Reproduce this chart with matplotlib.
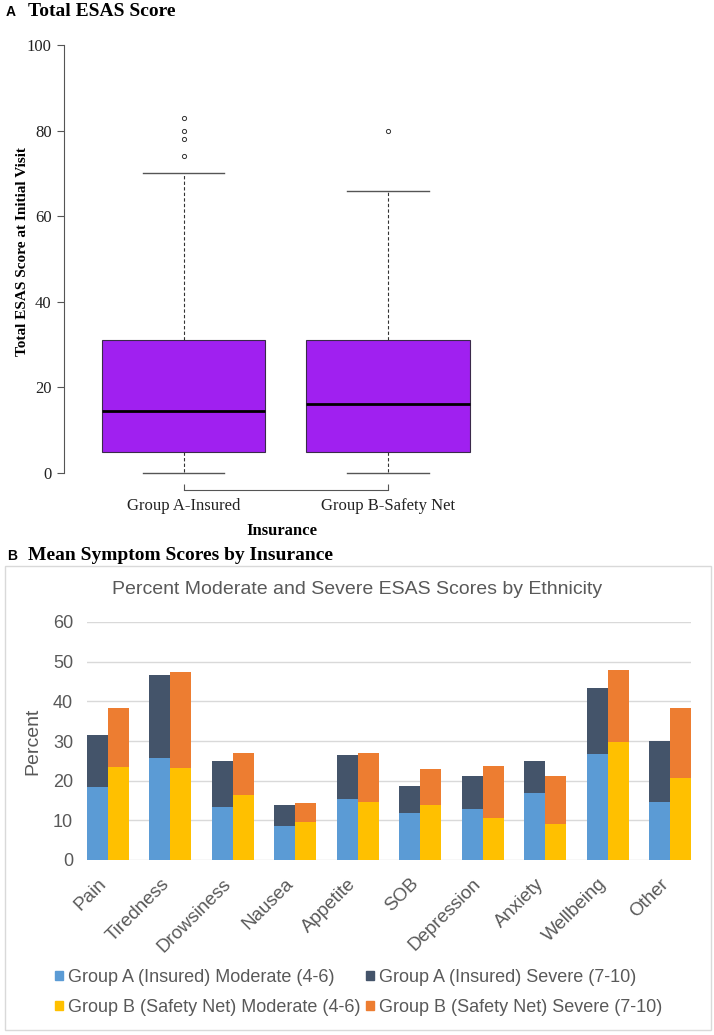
import numpy as np
import matplotlib
import matplotlib.pyplot as plt
import matplotlib.transforms as mtransforms
from matplotlib.patches import Rectangle, Patch

# panel A: box plot summary values
groups = ["Group A-Insured", "Group B-Safety Net"]
q1 = [5, 5]
q3 = [31, 31]
med = [14.4, 16.0]
whis_lo = [0, 0]
whis_hi = [70, 66]
fliers_a = [74, 78, 80, 83]
fliers_b = [80]

# panel B: stacked percentages
symptoms = ["Pain", "Tiredness", "Drowsiness", "Nausea", "Appetite",
            "SOB", "Depression", "Anxiety", "Wellbeing", "Other"]
a_mod = [18.4, 25.6, 13.4, 8.5, 15.4, 11.9, 12.9, 17.0, 26.6, 14.6]
a_tot = [31.6, 46.6, 24.9, 13.9, 26.5, 18.6, 21.3, 24.9, 43.4, 29.9]
b_mod = [23.5, 23.1, 16.5, 9.5, 14.7, 13.9, 10.7, 9.0, 29.8, 20.6]
b_tot = [38.3, 47.5, 27.0, 14.4, 27.0, 23.0, 23.7, 21.2, 48.0, 38.3]
legend_labels = ["Group A (Insured) Moderate (4-6)", "Group A (Insured) Severe (7-10)",
                 "Group B (Safety Net) Moderate (4-6)", "Group B (Safety Net) Severe (7-10)"]

serif = "Liberation Serif"
sans = "Liberation Sans"
gray = "#595959"
c_amod, c_asev, c_bmod, c_bsev = "#5B9BD5", "#44546A", "#FFC000", "#ED7D31"

W, H = 714, 1035
fig = plt.figure(figsize=(W / 100, H / 100), dpi=100)

def fx(px):
    return px / W

def fy(py):
    return 1 - py / H

# ---------------- panel A ----------------
ax1 = fig.add_axes([fx(64), fy(490), fx(500 - 64), (490 - 28) / H])
stats = []
for i in range(2):
    stats.append(dict(med=med[i], q1=q1[i], q3=q3[i], whislo=whis_lo[i],
                      whishi=whis_hi[i], fliers=[fliers_a, fliers_b][i], label=groups[i]))
ax1.bxp(stats, positions=[1, 2], widths=0.8, capwidths=0.4, patch_artist=True,
        boxprops=dict(facecolor="#A020F0", edgecolor="#3a2a4a", lw=0.8),
        medianprops=dict(color="black", lw=2),
        whiskerprops=dict(color="#333333", lw=0.8, ls=(0, (3, 2))),
        capprops=dict(color="#555555", lw=1),
        flierprops=dict(marker="o", markersize=3, markerfacecolor="none",
                        markeredgecolor="#333333", markeredgewidth=0.7))
ax1.set_xlim(0.4156, 2.547)
ax1.set_ylim(-4, 104)
ax1.spines["top"].set_visible(False)
ax1.spines["right"].set_visible(False)
ax1.spines["left"].set_bounds(0, 100)
ax1.spines["bottom"].set_bounds(1, 2)
for s in ["left", "bottom"]:
    ax1.spines[s].set_color("#555555")
    ax1.spines[s].set_linewidth(0.8)
ax1.set_yticks([0, 20, 40, 60, 80, 100])
ax1.tick_params(axis="y", direction="out", length=5, width=0.8, color="#555555",
                labelsize=12, pad=4)
ax1.tick_params(axis="x", direction="in", length=4, width=0.8, color="#555555",
                labelsize=12, pad=6)
for lab in ax1.get_xticklabels() + ax1.get_yticklabels():
    lab.set_fontfamily(serif)
    lab.set_color("#222222")
ax1.set_ylabel("Total ESAS Score at Initial Visit", fontfamily=serif, fontweight="bold",
               fontsize=11)
ax1.yaxis.set_label_coords(-(64 - 29) / (500 - 64), (490 - 252) / (490 - 28))
ax1.set_xlabel("Insurance", fontfamily=serif, fontweight="bold", fontsize=12, labelpad=6)

fig.text(fx(6), fy(12), "A", fontfamily=sans, fontweight="bold", fontsize=10, va="center")
fig.text(fx(28), fy(12), "Total ESAS Score", fontfamily=serif, fontweight="bold",
         fontsize=14, va="center")

# ---------------- panel B ----------------
fig.text(fx(7), fy(556), "B", fontfamily=sans, fontweight="bold", fontsize=10, va="center")
fig.text(fx(28), fy(556), "Mean Symptom Scores by Insurance", fontfamily=serif,
         fontweight="bold", fontsize=14, va="center")
fig.patches.append(Rectangle((fx(5), fy(1030)), fx(706), (1030 - 566) / H,
                             transform=fig.transFigure, fill=False,
                             edgecolor="#D9D9D9", lw=1))
fig.text(fx(357), fy(590), "Percent Moderate and Severe ESAS Scores by Ethnicity",
         fontfamily=sans, fontsize=14, color=gray, ha="center", va="center")

ax2 = fig.add_axes([fx(87), fy(860), fx(691 - 87), (860 - 622) / H])
x = np.arange(len(symptoms))
bw = 0.335
a_sev = np.array(a_tot) - np.array(a_mod)
b_sev = np.array(b_tot) - np.array(b_mod)
ax2.bar(x - bw / 2, a_mod, bw, color=c_amod, zorder=3)
ax2.bar(x - bw / 2, a_sev, bw, bottom=a_mod, color=c_asev, zorder=3)
ax2.bar(x + bw / 2, b_mod, bw, color=c_bmod, zorder=3)
ax2.bar(x + bw / 2, b_sev, bw, bottom=b_mod, color=c_bsev, zorder=3)
ax2.set_xlim(-bw, len(symptoms) - 1 + bw)
ax2.set_ylim(0, 60)
ax2.set_yticks(np.arange(0, 61, 10))
ax2.grid(axis="y", color="#D9D9D9", lw=1, zorder=0)
for s in ax2.spines.values():
    s.set_visible(False)
ax2.tick_params(axis="y", length=0, labelsize=13, labelcolor=gray, pad=10)
ax2.set_xticks(x)
ax2.set_xticklabels(symptoms, rotation=45, ha="right", rotation_mode="anchor",
                    fontsize=13.5, color=gray)
ax2.tick_params(axis="x", length=0, pad=11)
shift = mtransforms.ScaledTranslation(-10 / 100, 0, fig.dpi_scale_trans)
for lab in ax2.get_xticklabels():
    lab.set_transform(lab.get_transform() + shift)
for lab in ax2.get_xticklabels() + ax2.get_yticklabels():
    lab.set_fontfamily(sans)
ax2.set_ylabel("Percent", fontfamily=sans, fontsize=14, color=gray, labelpad=8)

handles = [Patch(color=c) for c in [c_amod, c_bmod, c_asev, c_bsev]]
labels = [legend_labels[0], legend_labels[2], legend_labels[1], legend_labels[3]]
fig.legend(handles, labels, ncol=2, loc="upper left",
           bbox_to_anchor=(fx(55), fy(969)), frameon=False,
           prop=dict(family=sans, size=13), labelcolor=gray,
           handlelength=0.45, handleheight=0.45, handletextpad=0.28,
           columnspacing=0.3, labelspacing=0.72, borderpad=0, borderaxespad=0)

fig.savefig("out.png", dpi=100)
